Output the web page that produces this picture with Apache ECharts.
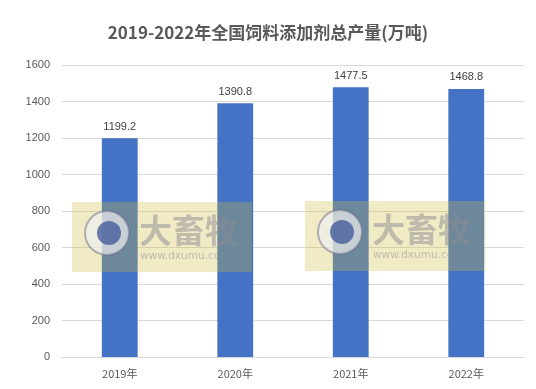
<!DOCTYPE html>
<html><head><meta charset="utf-8">
<script src="https://cdn.jsdelivr.net/npm/echarts@6/dist/echarts.min.js"></script>
<style>html,body{margin:0;padding:0;background:#fff}#c{width:536px;height:389px}</style>
</head><body><div id="c"></div>
<script>
var categories = ['2019年','2020年','2021年','2022年'];
var values = [1199.2, 1390.8, 1477.5, 1468.8];
var yTicks = [0,200,400,600,800,1000,1200,1400,1600];

function watermark(x, y) {
  var Z = 100;
  return {
    type: 'group', left: x, top: y, z: Z,
    children: [
      {type:'rect', z:Z, shape:{x:0,y:0,width:180,height:70}, style:{fill:'rgba(205,190,60,0.3)'}},
      {type:'circle', z:Z+1, shape:{cx:35,cy:31,r:22}, style:{fill:'rgba(240,240,240,0.7)', stroke:'rgba(110,110,140,0.5)', lineWidth:2}},
      {type:'circle', z:Z+2, shape:{cx:37,cy:31,r:12}, style:{fill:'rgba(60,85,150,0.75)'}},
      {type:'text', z:Z+1, style:{text:'大畜牧', x:67, y:12, font:'bold 33px "Noto Sans CJK SC"', fill:'rgba(140,140,150,0.5)'}},
      {type:'text', z:Z+1, style:{text:'www.dxumu.com', x:68, y:49, font:'10.5px "DejaVu Sans"', fill:'rgba(140,140,150,0.5)'}}
    ]
  };
}

var chart = echarts.init(document.getElementById('c'));
chart.setOption({
  animation: false,
  title: {
    text: '2019-2022年全国饲料添加剂总产量(万吨)',
    left: 'center', top: 19,
    textStyle: {fontSize: 17, fontWeight: 'bold', color: '#595959', fontFamily: '"Noto Sans CJK SC", sans-serif'}
  },
  grid: {left: 62, right: 12, top: 65, bottom: 32},
  xAxis: {
    type: 'category', data: categories,
    axisLine: {lineStyle: {color: '#d9d9d9'}},
    axisTick: {show: false},
    axisLabel: {color: '#595959', fontSize: 11, margin: 11, fontFamily: '"Noto Sans CJK SC", sans-serif'}
  },
  yAxis: {
    type: 'value', min: yTicks[0], max: yTicks[yTicks.length-1], interval: 200,
    axisLine: {show: false}, axisTick: {show: false},
    splitLine: {lineStyle: {color: '#d9d9d9'}},
    axisLabel: {color: '#595959', fontSize: 11, margin: 12, fontFamily: '"Liberation Sans", sans-serif',
      formatter: function (v) { return String(v); }}
  },
  series: [{
    type: 'bar', data: values, barWidth: '31%',
    itemStyle: {color: '#4472C4'},
    label: {show: true, position: 'top', distance: 6, color: '#404040', fontSize: 11, fontFamily: '"Liberation Sans", sans-serif'}
  }],
  graphic: [watermark(72, 202), watermark(305, 201)]
});
</script></body></html>
